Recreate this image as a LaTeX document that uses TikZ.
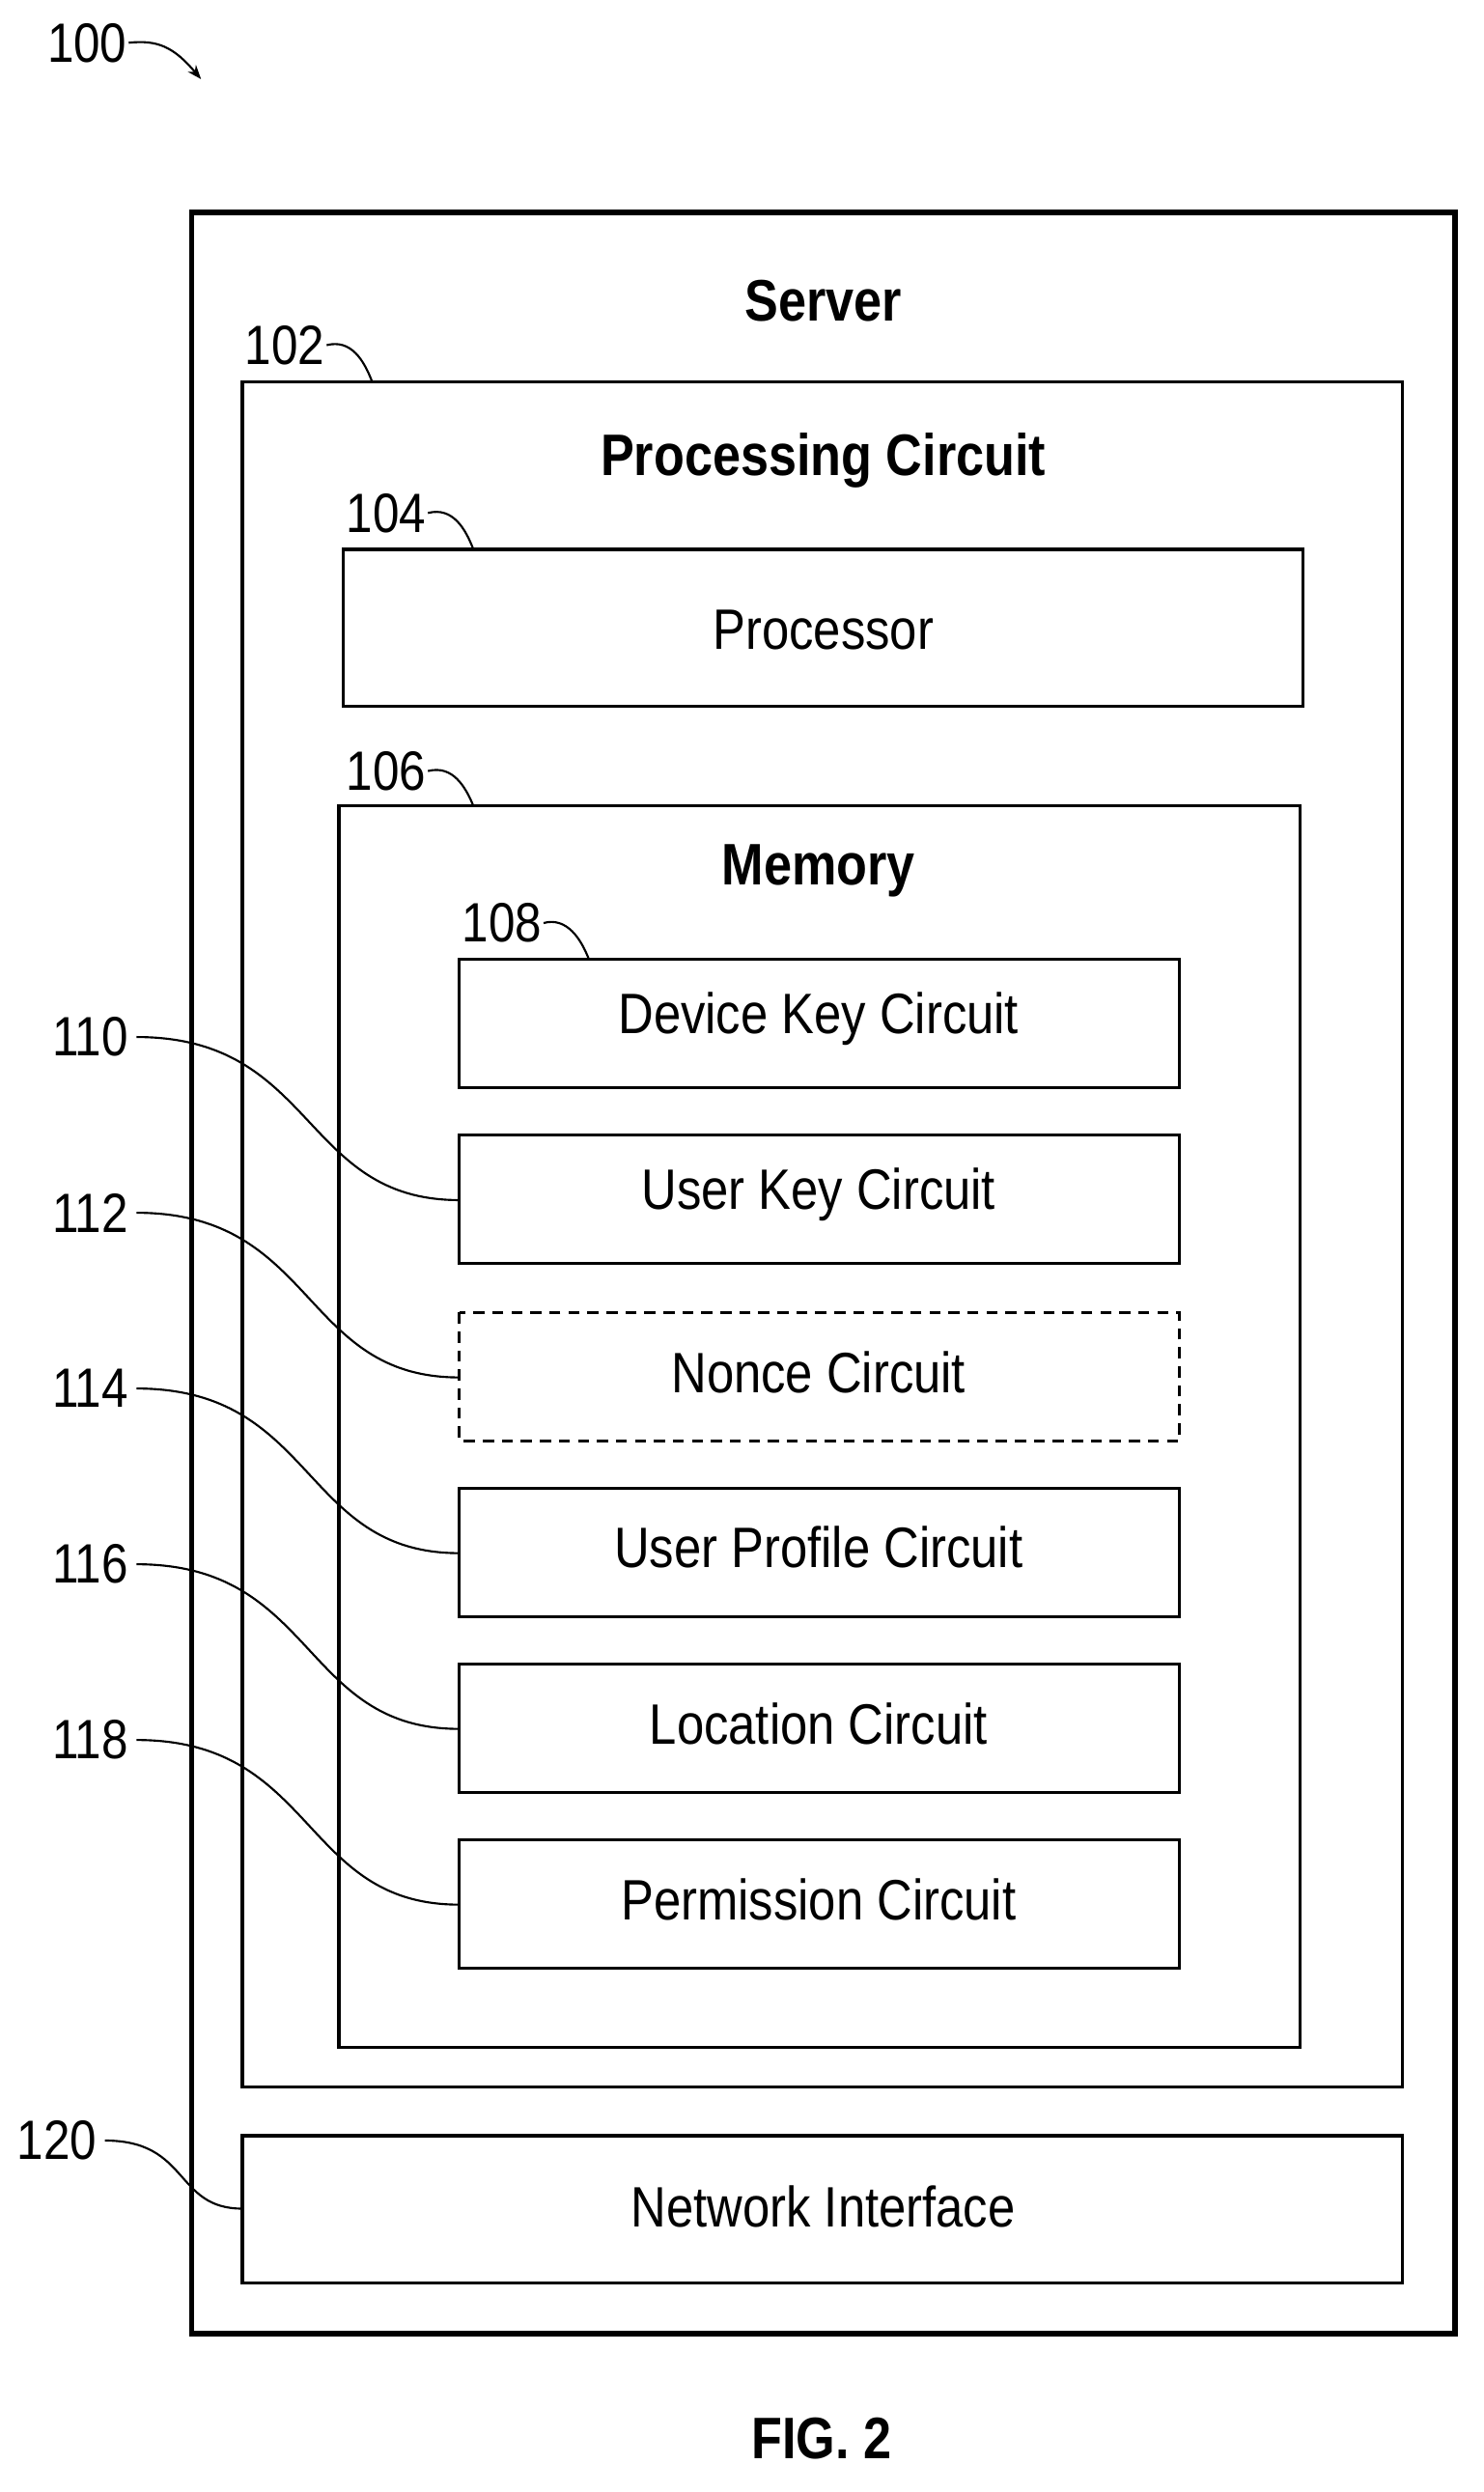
\documentclass[tikz,border=0pt]{standalone}
\usepackage{fontspec}
\setmainfont{Liberation Sans}[FakeStretch=0.86]
\usetikzlibrary{arrows.meta}
\begin{document}
\begin{tikzpicture}[x=1pt,y=-1pt,
  box/.style={draw,line width=2pt},
  lbl/.style={font=\fontsize{36}{40}\selectfont},
  num/.style={font=\fontsize{35}{38}\selectfont,inner sep=1pt},
  ttl/.style={font=\bfseries\fontsize{37}{40}\selectfont},
  lead/.style={line width=1.3pt}]
\useasboundingbox (0,0) rectangle (937,1574);
\draw[line width=3.5pt] (121,134) rectangle (919,1474);
\node[ttl] (server) at (520,190) {Server};
\draw[box] (153,241) rectangle (886,1318);
\node[ttl] (pc) at (520,291) {Processing Circuit};
\draw[box] (217,347) rectangle (823,446);
\node[lbl] (proc) at (520,398) {Processor};
\draw[box] (214,509) rectangle (821,1293);
\node[ttl] (mem) at (517,550) {Memory};
\foreach \name/\t/\b/\txt in {dk/606/687/Device Key Circuit, uk/717/798/User Key Circuit, up/940/1021/User Profile Circuit, lc/1051/1132/Location Circuit, pm/1162/1243/Permission Circuit}{
  \draw[box] (290,\t) rectangle (745,\b);
  \node[lbl] (\name) at (517,{(\t+\b)/2-3}) {\txt};
}
\draw[box,dash pattern=on 7pt off 5pt] (290,829) rectangle (745,910);
\node[lbl] (nc) at (517,867) {Nonce Circuit};
\draw[box] (153,1349) rectangle (886,1442);
\node[lbl] (ni) at (520,1394) {Network Interface};
\node[ttl] (fig) at (519,1540) {FIG. 2};
% reference numerals
\node[num] (n100) at (55,27) {100};
\draw[lead,-{Stealth[length=9pt]}] (n100.east) .. controls (100,25) and (110,30) .. (127,50);
\node[num] (n102) at (180,218) {102};
\draw[lead] (n102.east) .. controls (222,214) and (230,228) .. (235,241);
\node[num] (n104) at (244,324) {104};
\draw[lead] (n104.east) .. controls (286,320) and (294,334) .. (299,347);
\node[num] (n106) at (244,487) {106};
\draw[lead] (n106.east) .. controls (286,483) and (294,497) .. (299,509);
\node[num] (n108) at (317,583) {108};
\draw[lead] (n108.east) .. controls (358,579) and (367,593) .. (372,606);
\foreach \n/\y/\ty in {110/655/758, 112/766/870, 114/877/981, 116/988/1092, 118/1099/1203}{
  \node[num] (n\n) at (57,\y) {\n};
  \draw[lead] (n\n.east) ++(4,0) .. controls (200,\y) and (190,\ty) .. (290,\ty);
}
\node[num] (n120) at (36,1352) {120};
\draw[lead] (n120.east) ++(4,0) .. controls (120,1352) and (110,1395) .. (153,1395);
\end{tikzpicture}
\end{document}
